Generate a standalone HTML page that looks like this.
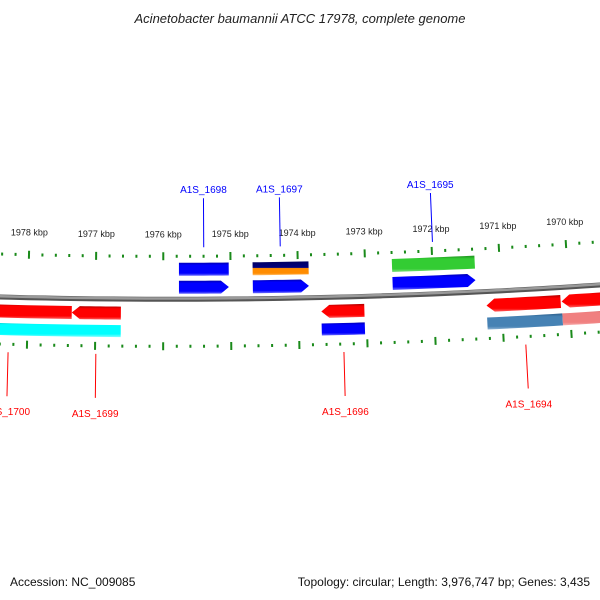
<!DOCTYPE html>
<html><head><meta charset="utf-8">
<style>
body{margin:0;background:#fff;}
svg{display:block;font-family:"Liberation Sans","DejaVu Sans",sans-serif;}
</style></head>
<body>
<svg id="map" width="600" height="600" viewBox="0 0 600 600" xmlns="http://www.w3.org/2000/svg">
<defs>
<linearGradient id="g-blue" x1="0" y1="0" x2="0" y2="1"><stop offset="0" stop-color="#0000b0"/><stop offset="0.2" stop-color="#0000ff"/><stop offset="0.8" stop-color="#0000ff"/><stop offset="1" stop-color="#7070ff"/></linearGradient>
<linearGradient id="g-red" x1="0" y1="0" x2="0" y2="1"><stop offset="0" stop-color="#b00000"/><stop offset="0.2" stop-color="#ff0000"/><stop offset="0.8" stop-color="#ff0000"/><stop offset="1" stop-color="#ff6060"/></linearGradient>
<linearGradient id="g-cyan" x1="0" y1="0" x2="0" y2="1"><stop offset="0" stop-color="#00b0b0"/><stop offset="0.2" stop-color="#00ffff"/><stop offset="0.8" stop-color="#00ffff"/><stop offset="1" stop-color="#80ffff"/></linearGradient>
<linearGradient id="g-green" x1="0" y1="0" x2="0" y2="1"><stop offset="0" stop-color="#1f8f1f"/><stop offset="0.2" stop-color="#33cc33"/><stop offset="0.8" stop-color="#33cc33"/><stop offset="1" stop-color="#80e080"/></linearGradient>
<linearGradient id="g-steel" x1="0" y1="0" x2="0" y2="1"><stop offset="0" stop-color="#2e5f8a"/><stop offset="0.2" stop-color="#4682b4"/><stop offset="0.8" stop-color="#4682b4"/><stop offset="1" stop-color="#8fb4d4"/></linearGradient>
<linearGradient id="g-coral" x1="0" y1="0" x2="0" y2="1"><stop offset="0" stop-color="#c06060"/><stop offset="0.2" stop-color="#f08080"/><stop offset="0.8" stop-color="#f08080"/><stop offset="1" stop-color="#f8b0b0"/></linearGradient>
<linearGradient id="g-navyorange" x1="0" y1="0" x2="0" y2="1"><stop offset="0" stop-color="#000060"/><stop offset="0.45" stop-color="#000080"/><stop offset="0.5" stop-color="#ff8c00"/><stop offset="0.85" stop-color="#ff8c00"/><stop offset="1" stop-color="#ffc070"/></linearGradient>
</defs>
<text x="300" y="23" text-anchor="middle" font-size="13" font-style="italic" fill="#222">Acinetobacter baumannii ATCC 17978, complete genome</text>
<g id="ticks"></g>
<g id="backbone"></g>
<g id="features"></g>
<g id="labels"></g>
<text x="10" y="586" font-size="12" fill="#111">Accession: NC_009085</text>
<text x="590" y="586" text-anchor="end" font-size="12" fill="#111">Topology: circular; Length: 3,976,747 bp; Genes: 3,435</text>
</svg>
<script>
// data (kbp)
const geneNames = ["A1S_1698","","A1S_1697","","A1S_1695","","A1S_1700","A1S_1699","A1S_1696","A1S_1694","","","","","",""];
const geneStart = [1975.767,1975.767,1974.672,1974.672,1972.60,1972.60,1979.2,1977.35,1973.666,1971.226,1970.116,1979.2,1973.666,1971.226,1970.116,1977.35];
const geneEnd   = [1975.027,1975.027,1973.840,1973.840,1971.37,1971.37,1977.35,1976.625,1973.03,1970.13,1969.2,1976.625,1973.03,1970.116,1969.2,1977.35];
const geneRing  = [0,1,0,1,0,1,2,2,2,2,2,3,3,3,3,3];
const geneArrow = [0,1,0,1,0,1,-1,-1,-1,-1,-1,0,0,0,0,0];
const geneFill  = ["g-blue","g-blue","g-navyorange","g-blue","g-green","g-blue","g-red","g-red","g-red","g-red","g-red","g-cyan","g-blue","g-steel","g-coral","g-cyan"];
const labelColor = ["#0000ff","","#0000ff","","#0000ff","","#ff0000","#ff0000","#ff0000","#ff0000","","","","","",""];
const tickMin = 1968, tickMax = 1980;

// geometry
const XC=171, A=299.3, R=6429, YC=A-R, BP0=1975.885, PXK=67.6;
const ringOff=[-30,-12,14,32], ringH=[13,13,13,12];
const NS="http://www.w3.org/2000/svg";
function pt(bp,off){const t=(bp-BP0)*-PXK/R, r=R+off; return [XC+r*Math.sin(t), YC+r*Math.cos(t)];}
function mk(tag,attrs,parent){const e=document.createElementNS(NS,tag);for(const k in attrs)e.setAttribute(k,attrs[k]);parent.appendChild(e);return e;}
const gT=document.getElementById('ticks'),gB=document.getElementById('backbone'),gF=document.getElementById('features'),gL=document.getElementById('labels');

// backbone
let d="";for(let b=tickMin;b<=tickMax;b+=0.25){const p=pt(b,0);d+=(d?"L":"M")+p[0].toFixed(2)+" "+p[1].toFixed(2);}
let bb=mk('path',{d:d,stroke:"#555",'stroke-width':5,fill:"none"},gB);


let bb2=mk('path',{d:d,stroke:"#9a9a9a",'stroke-width':2.5,fill:"none",transform:"translate(0,-0.8)"},gB);



// ticks
for(let i=0;i<=(tickMax-tickMin)*5;i++){
  const b=tickMin+i*0.2, major=(i%5===0);
  [-43,47].forEach(off=>{
    const h=major?8:3, p1=pt(b,off-h/2), p2=pt(b,off+h/2);
    const l=mk('line',{x1:p1[0],y1:p1[1],x2:p2[0],y2:p2[1],stroke:"#1a8a1a",'stroke-width':2},gT);
    
    
  });
  if(major){const p=pt(b,-62);
    const t=mk('text',{x:p[0],y:p[1],'text-anchor':'middle','font-size':9,fill:"#222"},gT);
    t.textContent=Math.round(b)+" kbp";
    
    }
}

// features
for(let i=0;i<geneStart.length;i++){
  if(geneStart[i]===geneEnd[i])continue;
  const off=ringOff[geneRing[i]],h=ringH[geneRing[i]],s=geneStart[i],e=geneEnd[i];
  const head=8/PXK, pts=[];
  let a=s,b=e;
  if(geneArrow[i]===1)b=e+head; if(geneArrow[i]===-1)a=s-head;
  const n=8;
  for(let k=0;k<=n;k++)pts.push(pt(a+(b-a)*k/n,off-h/2));
  if(geneArrow[i]===1)pts.push(pt(e,off));
  for(let k=n;k>=0;k--)pts.push(pt(a+(b-a)*k/n,off+h/2));
  if(geneArrow[i]===-1)pts.push(pt(s,off));
  const poly=mk('polygon',{points:pts.map(p=>p[0].toFixed(2)+","+p[1].toFixed(2)).join(" "),fill:"url(#"+geneFill[i]+")"},gF);
  
  
  if(geneNames[i]){
    const mid=(s+e)/2, up=geneRing[i]<2;
    const o1=up?-52:55,o2=up?-101:99,o3=up?-106:110;
    const p1=pt(mid,o1),p2=pt(mid,o2),p3=pt(mid,o3);
    const ln=mk('line',{x1:p1[0],y1:p1[1],x2:p2[0],y2:p2[1],stroke:labelColor[i],'stroke-width':1},gL);
    
    
    const tx=mk('text',{x:p3[0],y:up?p3[1]:p3[1]+8,'text-anchor':'middle','font-size':10,fill:labelColor[i]},gL);
    tx.textContent=geneNames[i];
    
    
  }
}
</script>
</body></html>
